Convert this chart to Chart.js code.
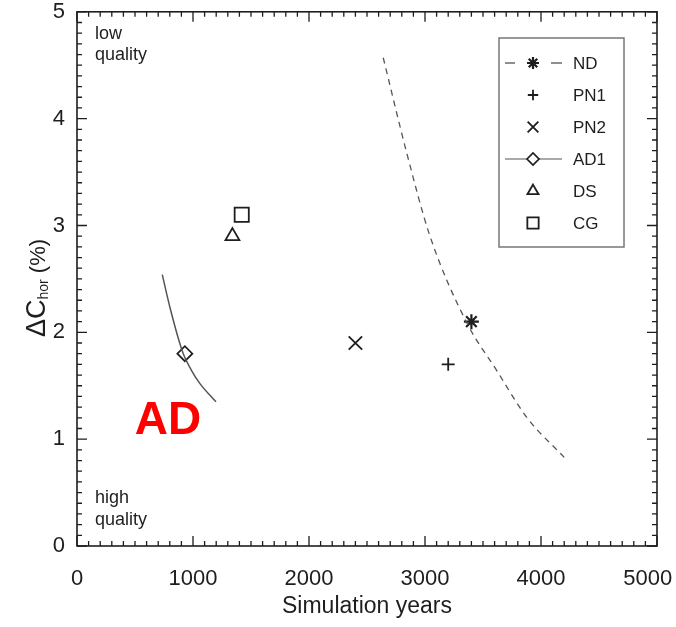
<!DOCTYPE html>
<html>
<head>
<meta charset="utf-8">
<script src="https://cdn.jsdelivr.net/npm/chart.js@4/dist/chart.umd.min.js"></script>
<style>
  html, body { margin: 0; padding: 0; background: #fff; }
  #wrap { width: 676px; height: 627px; }
</style>
</head>
<body>
<div id="wrap"><canvas id="c" width="676" height="627"></canvas></div>
<script>
// axis ranges and ticks
const xTicks = [0, 1000, 2000, 3000, 4000, 5000];
const yTicks = [0, 1, 2, 3, 4, 5];

// single runs
const ndX = [3400], ndY = [2.1];
const pn1X = [3200], pn1Y = [1.7];
const pn2X = [2400], pn2Y = [1.9];
const ad1X = [930], ad1Y = [1.8];
const dsX = [1340], dsY = [2.9];
const cgX = [1420], cgY = [3.1];

// curves
const ndCurveX = [2640, 2840, 3040, 3360, 3620, 3880, 4200];
const ndCurveY = [4.57, 3.69, 2.91, 2.09, 1.64, 1.20, 0.83];
const adCurveX = [735, 802, 888, 916, 989, 1060, 1198];
const adCurveY = [2.54, 2.23, 1.89, 1.80, 1.64, 1.52, 1.35];

const legendNames = ["ND", "PN1", "PN2", "AD1", "DS", "CG"];

const toPts = (xs, ys) => xs.map((x, i) => ({ x: x, y: ys[i] }));
const ink = "#1e1e1e";
const font = "'Liberation Sans', Arial, Helvetica, sans-serif";

const markers = {
  ND:  { pointStyle: "star", radius: 7.5, borderWidth: 2.2 },
  PN1: { pointStyle: "cross", radius: 6.5, borderWidth: 1.8 },
  PN2: { pointStyle: "crossRot", radius: 9.5, borderWidth: 1.8 },
  AD1: { pointStyle: "rectRot", radius: 7.5, borderWidth: 1.7 },
  DS:  { pointStyle: "triangle", radius: 8, borderWidth: 1.8 },
  CG:  { pointStyle: "rect", radius: 10, borderWidth: 1.8 },
};

function pointSet(name, xs, ys) {
  const m = markers[name];
  return {
    label: name,
    data: toPts(xs, ys),
    showLine: false,
    pointStyle: m.pointStyle,
    pointRadius: m.radius,
    pointBorderWidth: m.borderWidth,
    pointBorderColor: ink,
    pointBackgroundColor: "rgba(255,255,255,0)",
  };
}

const frameAndTicks = {
  id: "frameAndTicks",
  afterDraw(chart) {
    const ctx = chart.ctx;
    const a = chart.chartArea;
    const xs = chart.scales.x, ys = chart.scales.y;
    ctx.save();
    ctx.strokeStyle = ink;
    ctx.lineWidth = 1.6;
    ctx.strokeRect(a.left, a.top, a.right - a.left, a.bottom - a.top);
    ctx.lineWidth = 1.3;
    ctx.beginPath();
    for (let v = 0; v <= 5000; v += 100) {
      const len = v % 1000 === 0 ? 10 : 5;
      const px = xs.getPixelForValue(v);
      ctx.moveTo(px, a.bottom); ctx.lineTo(px, a.bottom - len);
      ctx.moveTo(px, a.top); ctx.lineTo(px, a.top + len);
    }
    for (let k = 0; k <= 50; k++) {
      const len = k % 10 === 0 ? 10 : 5;
      const py = ys.getPixelForValue(k / 10);
      ctx.moveTo(a.left, py); ctx.lineTo(a.left + len, py);
      ctx.moveTo(a.right, py); ctx.lineTo(a.right - len, py);
    }
    ctx.stroke();

    // axis titles
    ctx.fillStyle = ink;
    ctx.font = "23px " + font;
    ctx.textAlign = "center";
    ctx.textBaseline = "middle";
    ctx.fillText("Simulation years", (a.left + a.right) / 2, 607);

    ctx.save();
    ctx.translate(35, 288);
    ctx.rotate(-Math.PI / 2);
    ctx.textAlign = "left";
    ctx.textBaseline = "alphabetic";
    const big = "27px " + font, sub = "14px " + font, tail = "22px " + font;
    ctx.font = big;
    const w1 = ctx.measureText("\u0394C").width;
    ctx.font = sub;
    const w2 = ctx.measureText("hor").width;
    ctx.font = tail;
    const w3 = ctx.measureText(" (%)").width;
    const x0 = -(w1 + w2 + w3) / 2;
    ctx.font = big;
    ctx.fillText("\u0394C", x0, 10);
    ctx.font = sub;
    ctx.fillText("hor", x0 + w1, 13);
    ctx.font = tail;
    ctx.fillText(" (%)", x0 + w1 + w2, 10);
    ctx.restore();

    // quality notes
    ctx.font = "18px " + font;
    ctx.textAlign = "left";
    ctx.fillText("low", 95, 34);
    ctx.fillText("quality", 95, 55);
    ctx.fillText("high", 95, 498);
    ctx.fillText("quality", 95, 520);

    // red label
    ctx.fillStyle = "#ff0000";
    ctx.font = "bold 46px " + font;
    ctx.textAlign = "center";
    ctx.fillText("AD", 168, 421);

    // legend
    const lx = 499, ly = 38, lw = 125, lh = 209;
    ctx.strokeStyle = "#777";
    ctx.lineWidth = 1.5;
    ctx.strokeRect(lx, ly, lw, lh);
    const symX = 533, txtX = 573;
    legendNames.forEach((name, i) => {
      const y = 63 + i * 32;
      ctx.strokeStyle = ink;
      if (name === "ND") {
        ctx.lineWidth = 1.2;
        ctx.beginPath();
        ctx.moveTo(505, y); ctx.lineTo(515, y);
        ctx.moveTo(551, y); ctx.lineTo(562, y);
        ctx.stroke();
      }
      if (name === "AD1") {
        ctx.lineWidth = 1.2;
        ctx.strokeStyle = "#555";
        ctx.beginPath();
        ctx.moveTo(505, y); ctx.lineTo(562, y);
        ctx.stroke();
        ctx.strokeStyle = ink;
      }
      const m = markers[name];
      ctx.fillStyle = "#fff";
      ctx.lineWidth = m.borderWidth;
      Chart.helpers.drawPoint(ctx, {
        pointStyle: m.pointStyle,
        radius: m.radius * 0.8,
        rotation: 0,
        borderWidth: m.borderWidth,
      }, symX, y);
      ctx.fillStyle = ink;
      ctx.font = "17px " + font;
      ctx.textAlign = "left";
      ctx.fillText(name, txtX, y + 1);
    });
    ctx.restore();
  },
};

new Chart(document.getElementById("c"), {
  type: "scatter",
  data: {
    datasets: [
      {
        label: "ND curve",
        data: toPts(ndCurveX, ndCurveY),
        showLine: true,
        borderColor: "#555",
        borderWidth: 1.3,
        borderDash: [6, 5],
        pointRadius: 0,
        cubicInterpolationMode: "monotone",
      },
      {
        label: "AD curve",
        data: toPts(adCurveX, adCurveY),
        showLine: true,
        borderColor: "#555",
        borderWidth: 1.5,
        pointRadius: 0,
        cubicInterpolationMode: "monotone",
      },
      pointSet("ND", ndX, ndY),
      pointSet("PN1", pn1X, pn1Y),
      pointSet("PN2", pn2X, pn2Y),
      pointSet("AD1", ad1X, ad1Y),
      pointSet("DS", dsX, dsY),
      pointSet("CG", cgX, cgY),
    ],
  },
  options: {
    responsive: false,
    animation: false,
    layout: { padding: { top: 9, right: 19, left: 0, bottom: 0 } },
    plugins: { legend: { display: false }, tooltip: { enabled: false } },
    scales: {
      x: {
        type: "linear",
        min: 0,
        max: 5000,
        afterFit: (s) => { s.height = 81; s.paddingLeft = 0; s.paddingRight = 0; },
        afterBuildTicks: (s) => { s.ticks = xTicks.map((v) => ({ value: v })); },
        grid: { display: false, drawTicks: false },
        border: { display: false },
        ticks: {
          padding: 20,
          color: ink,
          font: { size: 22, family: font },
          maxRotation: 0,
          // last label sits a little left of its tick, as in the original
          callback: (v) => (v === 5000 ? "5000   " : String(v)),
        },
      },
      y: {
        type: "linear",
        min: 0,
        max: 5,
        afterFit: (s) => { s.width = 77; s.paddingTop = 0; s.paddingBottom = 0; },
        afterBuildTicks: (s) => { s.ticks = yTicks.map((v) => ({ value: v })); },
        grid: { display: false, drawTicks: false },
        border: { display: false },
        ticks: {
          padding: 12,
          color: ink,
          font: { size: 22, family: font },
          callback: (v) => String(v),
        },
      },
    },
  },
  plugins: [frameAndTicks],
});
</script>
</body>
</html>
